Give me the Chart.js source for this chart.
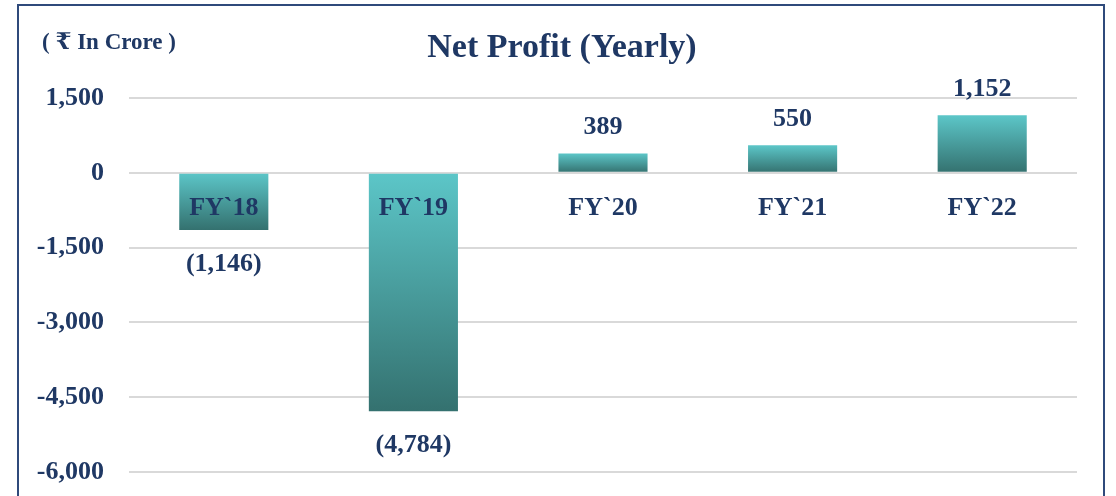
<!DOCTYPE html>
<html>
<head>
<meta charset="utf-8">
<script src="https://cdn.jsdelivr.net/npm/chart.js@4"></script>
<style>
  html, body { margin: 0; padding: 0; background: #fff; overflow: hidden; }
  #wrap { width: 1116px; height: 496px; }
</style>
</head>
<body>
<div id="wrap"><canvas id="myChart1" width="1116" height="496"></canvas></div>
<script>
const years = ["FY`18", "FY`19", "FY`20", "FY`21", "FY`22"];
const netProfit = [-1146, -4784, 389, 550, 1152];
const yTicks = [1500, 0, -1500, -3000, -4500, -6000];

const navy = '#1f3864';
const serif = "'Liberation Serif', 'DejaVu Serif', serif";

function fmt(v) {
    const s = Math.abs(v).toLocaleString('en-US');
    return v < 0 ? '(' + s + ')' : s;
}

// frame, title and unit note
const framePlugin = {
    id: 'frame',
    afterDraw(chart) {
        const c = chart.ctx;
        c.save();
        c.strokeStyle = '#2f4a7b';
        c.lineWidth = 2;
        c.strokeRect(18, 5, 1086, 520);
        c.fillStyle = navy;
        c.textBaseline = 'middle';
        c.font = "bold 23px " + serif;
        c.fillText('( \u20B9 In Crore )', 42, 43);
        c.font = "bold 34px " + serif;
        c.textAlign = 'center';
        c.fillText('Net Profit (Yearly)', 562, 48);
        c.restore();
    }
};

// value labels above / below bars
const labelPlugin = {
    id: 'barLabels',
    afterDatasetsDraw(chart) {
        const c = chart.ctx;
        const meta = chart.getDatasetMeta(0);
        c.save();
        c.fillStyle = navy;
        c.font = "bold 26px " + serif;
        c.textAlign = 'center';
        c.textBaseline = 'middle';
        meta.data.forEach((bar, i) => {
            const v = netProfit[i];
            const y = v < 0 ? bar.y + 34 : bar.y - 26;
            c.fillText(fmt(v), bar.x, y);
        });
        c.restore();
    }
};

function barGradient(context) {
    const chart = context.chart;
    const ys = chart.scales.y;
    if (!chart.chartArea || !ys || context.dataIndex === undefined) return '#4fb3b4';
    const v = netProfit[context.dataIndex];
    const p1 = ys.getPixelForValue(v);
    const p0 = ys.getPixelForValue(0);
    if (!isFinite(p0) || !isFinite(p1)) return '#4fb3b4';
    const top = Math.min(p0, p1), bottom = Math.max(p0, p1);
    const g = chart.ctx.createLinearGradient(0, top, 0, bottom === top ? top + 1 : bottom);
    g.addColorStop(0, '#5cc6c8');
    g.addColorStop(1, '#34716f');
    return g;
}

const ctx = document.getElementById('myChart1').getContext('2d');
const myChart = new Chart(ctx, {
    type: 'bar',
    data: {
        labels: years,
        datasets: [{
            label: 'Net Profit',
            data: netProfit,
            backgroundColor: barGradient,
            borderWidth: 0,
            barPercentage: 0.47,
            categoryPercentage: 1
        }]
    },
    options: {
        responsive: false,
        animation: false,
        layout: { padding: { left: 0, right: 39, top: 98, bottom: 24 } },
        plugins: {
            legend: { display: false },
            tooltip: { enabled: false },
            title: { display: false }
        },
        scales: {
            x: {
                position: { y: 0 },
                grid: { display: false, drawTicks: false },
                border: { display: false },
                ticks: {
                    z: 1,
                    color: navy,
                    font: { family: serif, size: 26, weight: 'bold' },
                    padding: 20
                }
            },
            y: {
                min: -6000,
                max: 1500,
                afterBuildTicks: scale => {
                    scale.ticks = yTicks.map(v => ({ value: v }));
                },
                afterFit: scale => {
                    scale.width = 129;
                    scale.paddingTop = 0;
                    scale.paddingBottom = 0;
                },
                grid: { color: '#d9d9d9', lineWidth: 2, drawTicks: false },
                border: { display: false },
                ticks: {
                    color: navy,
                    font: { family: serif, size: 26, weight: 'bold' },
                    padding: 25,
                    callback: v => v.toLocaleString('en-US')
                }
            }
        }
    },
    plugins: [framePlugin, labelPlugin]
});
</script>
</body>
</html>
